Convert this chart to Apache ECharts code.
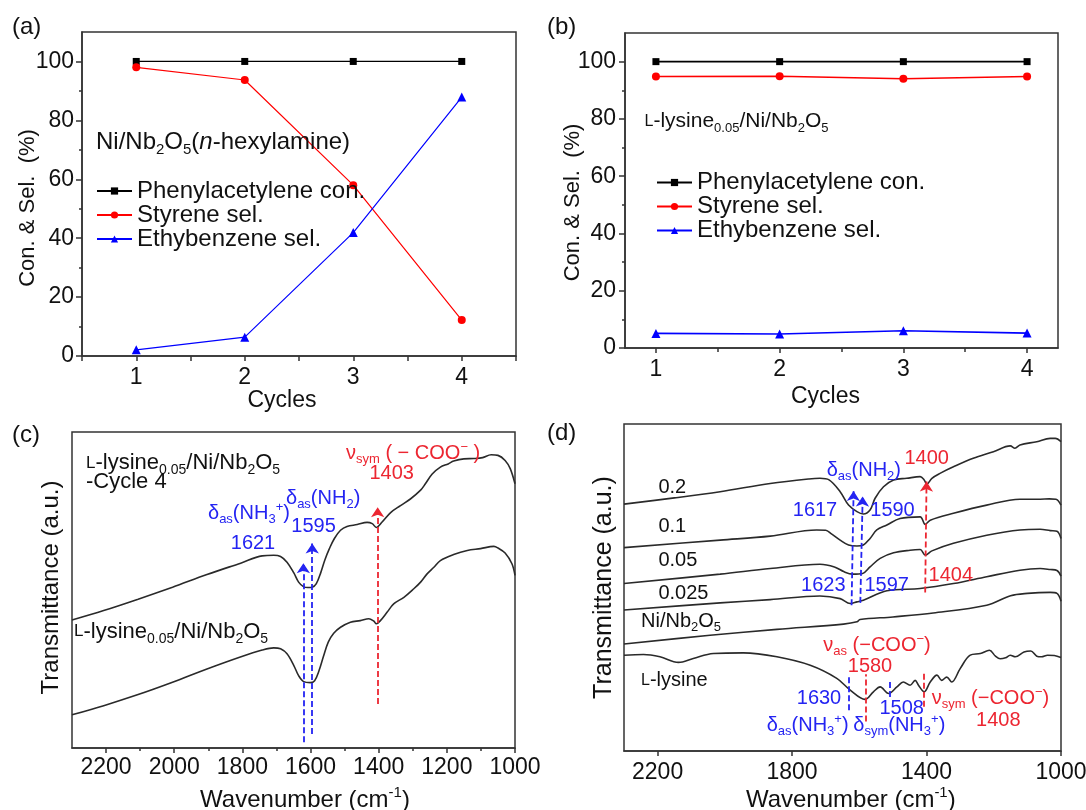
<!DOCTYPE html>
<html><head><meta charset="utf-8">
<script src="https://cdn.jsdelivr.net/npm/echarts@6/dist/echarts.min.js"></script>
<style>html,body{margin:0;padding:0;background:#fff}#chart{width:1086px;height:810px}</style>
</head><body><div id="chart"></div>
<script>
// ---------------- data ----------------
const cycles = [1, 2, 3, 4];
const aPhenylCon = [100, 100, 100, 100];
const aStyreneSel = [98.0, 93.7, 58.0, 12.2];
const aEthylSel = [2.1, 6.4, 41.9, 87.9];
const bPhenylCon = [100, 100, 100, 100];
const bStyreneSel = [94.8, 94.9, 94.0, 94.8];
const bEthylSel = [5.1, 4.9, 6.0, 5.2];
const seriesNames = ['Phenylacetylene con.', 'Styrene sel.', 'Ethybenzene sel.'];
const yTickLabelsAB = [0, 20, 40, 60, 80, 100];
const yMinorAB = [10, 30, 50, 70, 90];
const xTickLabelsAB = [1, 2, 3, 4];
const xMinorA = [0.5, 1.5, 2.5, 3.5, 4.5];
const xMinorB = [1.5, 2.5, 3.5];
const wnLabelsC = [1000, 1200, 1400, 1600, 1800, 2000, 2200];
const wnMinorC = [1100, 1300, 1500, 1700, 1900, 2100];
const wnLabelsD = [1000, 1400, 1800, 2200];

// (c) spectra: [wavenumber, transmittance a.u.]
const cCycle4 = [[2300,40.5],[2207,43.5],[2106,47.1],[2005,50.9],[1904,54.9],[1805,58.5],[1742,60.8],[1708,61.0],[1688,60.6],[1669,58.8],[1649,55.4],[1635,52.5],[1620,51.0],[1608,50.8],[1595,50.9],[1583,52.0],[1570,55.5],[1558,59.5],[1545,63.0],[1530,66.3],[1512,68.9],[1493,70.1],[1463,70.7],[1434,71.4],[1419,71.0],[1407,69.8],[1390,71.5],[1365,74.5],[1336,76.7],[1307,78.8],[1277,81.6],[1263,83.6],[1243,86.7],[1219,88.9],[1196,89.9],[1180,90.8],[1150,91.5],[1121,91.6],[1095,91.9],[1070,92.8],[1050,92.6],[1029,91.0],[1014,88.4],[1000,83.6]];
const cFresh = [[2300,10.5],[2207,13.4],[2106,16.9],[2005,20.8],[1904,25.0],[1806,28.8],[1742,31.0],[1708,31.7],[1688,31.4],[1669,29.8],[1649,26.1],[1635,22.9],[1620,21.0],[1601,20.7],[1588,21.3],[1575,24.5],[1562,29.0],[1548,33.5],[1532,36.3],[1512,38.2],[1483,39.8],[1454,40.3],[1429,40.9],[1414,40.1],[1407,39.3],[1395,40.3],[1375,43.0],[1356,45.6],[1326,47.7],[1297,50.4],[1277,52.5],[1258,55.1],[1238,57.2],[1219,59.3],[1180,61.2],[1140,62.5],[1101,63.1],[1062,63.8],[1050,63.3],[1029,61.7],[1009,58.3],[1000,54.6]];

// (d) spectra
const d02 = [[2300,75.5],[2150,77.4],[2014,79.3],[1865,81.8],[1750,83.2],[1717,83.4],[1690,82.9],[1657,79.3],[1632,75.2],[1607,73.2],[1588,72.5],[1568,73.7],[1553,77.3],[1528,80.8],[1498,82.9],[1459,83.4],[1419,83.9],[1407,82.9],[1399,81.6],[1384,83.4],[1360,84.9],[1320,86.9],[1261,89.5],[1201,91.5],[1151,93.3],[1137,92.6],[1122,93.6],[1072,94.6],[1032,95.6],[1017,95.6],[1000,94.6]];
const d01 = [[2300,62.2],[2014,64.5],[1865,65.7],[1727,67.6],[1700,67.5],[1684,66.5],[1657,64.5],[1632,63.0],[1607,62.7],[1588,63.0],[1568,65.0],[1548,67.6],[1518,69.1],[1479,71.1],[1419,71.6],[1404,69.3],[1389,70.6],[1320,72.7],[1221,75.2],[1122,77.0],[1062,77.0],[1035,77.1],[1015,77.0],[1000,75.2]];
const d005 = [[2300,51.2],[2014,54.1],[1865,55.8],[1717,57.1],[1674,56.3],[1645,54.8],[1620,54.1],[1590,54.3],[1568,56.3],[1538,58.9],[1498,60.6],[1449,61.4],[1419,61.6],[1404,59.9],[1384,61.2],[1320,63.5],[1221,66.0],[1122,67.6],[1062,67.8],[1032,67.4],[1012,67.2],[1000,65.0]];
const d0025 = [[2300,43.1],[2014,45.3],[1865,46.3],[1717,47.4],[1657,46.6],[1627,45.1],[1607,45.6],[1588,46.1],[1518,49.0],[1419,49.7],[1320,51.2],[1221,53.3],[1122,55.3],[1062,55.8],[1032,55.5],[1012,55.2],[1000,53.5]];
const dNiNb = [[2300,32.7],[2044,35.4],[1845,37.2],[1647,38.8],[1607,39.5],[1598,40.2],[1500,41.0],[1380,42.2],[1221,44.6],[1150,47.5],[1100,48.2],[1032,48.5],[1012,48.2],[1000,45.8]];
const dLysine = [[2300,29.3],[2242,29.5],[2193,28.8],[2138,27.1],[2094,28.3],[2034,29.8],[1945,30.0],[1845,28.8],[1746,26.2],[1667,22.2],[1627,18.6],[1583,15.8],[1558,18.1],[1538,19.6],[1513,17.6],[1488,19.6],[1469,21.1],[1449,20.1],[1434,21.6],[1424,20.1],[1407,18.1],[1389,21.1],[1369,23.2],[1355,21.6],[1340,22.6],[1325,21.1],[1300,25.2],[1270,29.3],[1240,29.8],[1213,30.8],[1195,29.0],[1181,28.2],[1165,28.5],[1151,29.3],[1136,28.8],[1110,30.3],[1090,30.6],[1072,29.0],[1058,28.8],[1040,29.3],[1020,29.2],[1000,28.6]];

// annotation lines: [wn_start, T_start, wn_end, T_end]
const cArrowBlue = [[1621,1.8,1621,58.5],[1595,4.4,1595,64.7]];
const cArrowRed = [[1403,13.9,1403,76.2]];
const dArrowBlue = [[1623,44.6,1617,79.5],[1597,45.3,1590,77.8]];
const dArrowRed = [[1404,48.5,1400,82.4]];
const dLineBlue = [[1630,12.5,1630,22.6],[1508,16.5,1508,21.6]];
const dLineRed = [[1580,9.0,1580,23.5],[1408,13.5,1408,24.0]];

// ---------------- styles ----------------
const FONT = '"Liberation Sans", Arial, Helvetica, sans-serif';
const BLACK = '#111111', BLUE = '#2424f2', RED = '#ec2631', AXIS = '#333333', CURVE = '#2a2a2a';

function rs(F, s, color) {
  const L = Math.round(F * 1.25);
  return {
    n:  {fontSize: F, lineHeight: L, fontFamily: FONT, fill: color},
    i:  {fontSize: F, lineHeight: L, fontFamily: FONT, fill: color, fontStyle: 'italic'},
    sc: {fontSize: Math.round(F * 0.78), lineHeight: L, fontFamily: FONT, fill: color},
    sub:{fontSize: s, lineHeight: s, fontFamily: FONT, fill: color, verticalAlign: 'bottom'},
    sup:{fontSize: s, lineHeight: s, fontFamily: FONT, fill: color, verticalAlign: 'top'}
  };
}
function txt(x, y, text, F, s, color, align, rot) {
  return {type: 'text', x: x, y: y, rotation: rot || 0, silent: true, z: 50,
    style: {text: text, rich: rs(F, s || Math.round(F * 0.65), color || BLACK),
      align: align || 'left', verticalAlign: 'middle', fontSize: F, fontFamily: FONT, fill: color || BLACK}};
}

function gridBox(left, top, width, height) {
  return {left, top, width, height, show: true, borderColor: AXIS, borderWidth: 1.5,
    backgroundColor: 'transparent', containLabel: false, outerBoundsMode: 'none'};
}
const labelStyle = {fontSize: 23, color: BLACK, fontFamily: FONT, formatter: v => String(v)};
function xAxisMajor(gi, min, max, labels, margin, inverse) {
  return {type: 'value', gridIndex: gi, min, max, inverse: !!inverse, position: 'bottom',
    axisLine: {show: true, lineStyle: {color: AXIS, width: 1.5}},
    axisTick: {show: true, inside: false, length: 5, customValues: labels, lineStyle: {color: AXIS, width: 1.5}},
    axisLabel: Object.assign({show: true, customValues: labels, margin: margin}, labelStyle),
    splitLine: {show: false}, minorTick: {show: false}};
}
function xAxisMinor(gi, min, max, ticks, inverse, len) {
  return {type: 'value', gridIndex: gi, min, max, inverse: !!inverse, position: 'bottom', offset: 0,
    axisLine: {show: false},
    axisTick: {show: true, inside: false, length: len || 4, customValues: ticks, lineStyle: {color: AXIS, width: 1.5}},
    axisLabel: {show: false}, splitLine: {show: false}};
}
function yAxisMajor(gi, labels, margin) {
  return {type: 'value', gridIndex: gi, min: 0, max: 110, position: 'left',
    axisLine: {show: true, lineStyle: {color: AXIS, width: 1.5}},
    axisTick: {show: true, inside: false, length: 6, customValues: labels, lineStyle: {color: AXIS, width: 1.5}},
    axisLabel: Object.assign({show: true, customValues: labels, margin: margin}, labelStyle),
    splitLine: {show: false}};
}
function yAxisMinor(gi, ticks) {
  return {type: 'value', gridIndex: gi, min: 0, max: 110, position: 'left', offset: 0,
    axisLine: {show: false},
    axisTick: {show: true, inside: false, length: 3, customValues: ticks, lineStyle: {color: AXIS, width: 1.5}},
    axisLabel: {show: false}, splitLine: {show: false}};
}
function yAxisHidden(gi) {
  return {type: 'value', gridIndex: gi, min: 0, max: 100, show: true,
    axisLine: {show: false}, axisTick: {show: false}, axisLabel: {show: false}, splitLine: {show: false}};
}
function zip(xs, ys) { return xs.map((x, i) => [x, ys[i]]); }

function pointSeries(name, xi, yi, xs, ys, color, symbol, size, lw) {
  return {name, type: 'line', xAxisIndex: xi, yAxisIndex: yi, data: zip(xs, ys),
    symbol, symbolSize: size, showSymbol: true, color: color,
    itemStyle: {color: color}, lineStyle: {color: color, width: lw}, silent: true};
}
function specSeries(name, yi, xi, data, extra) {
  return Object.assign({name, type: 'line', xAxisIndex: xi, yAxisIndex: yi, data,
    showSymbol: false, symbol: 'none', smooth: 0.35, color: CURVE,
    lineStyle: {color: CURVE, width: 1.6}, silent: true}, extra || {});
}
function mlData(list, color) {
  return list.map(l => [{coord: [l[0], l[1]], lineStyle: {color: color, type: [6, 3], width: 1.8}, itemStyle: {color: color}},
                        {coord: [l[2], l[3]]}]);
}
function markLines(list, arrow) {
  return {silent: true, animation: false, symbol: arrow ? ['none', 'arrow'] : ['none', 'none'],
    symbolSize: 10, label: {show: false}, emphasis: {disabled: true}, data: list};
}

const HALF = Math.PI / 2;
const option = {
  animation: false,
  backgroundColor: '#ffffff',
  textStyle: {fontFamily: FONT},
  grid: [gridBox(82, 32, 434, 324), gridBox(625, 33, 433, 315), gridBox(72, 432, 443, 316), gridBox(624, 424, 437, 327)],
  xAxis: [
    xAxisMajor(0, 0.5, 4.5, xTickLabelsAB, 10.5), xAxisMinor(0, 0.5, 4.5, xMinorA, false, 5),
    xAxisMajor(1, 0.75, 4.25, xTickLabelsAB, 10), xAxisMinor(1, 0.75, 4.25, xMinorB, false, 4),
    xAxisMajor(2, 1000, 2300, wnLabelsC, 8, true), xAxisMinor(2, 1000, 2300, wnMinorC, true, 3),
    xAxisMajor(3, 1000, 2300, wnLabelsD, 10, true)
  ],
  yAxis: [
    yAxisMajor(0, yTickLabelsAB, 8), yAxisMinor(0, yMinorAB),
    yAxisMajor(1, yTickLabelsAB, 9), yAxisMinor(1, yMinorAB),
    yAxisHidden(2), yAxisHidden(3)
  ],
  legend: [
    {left: 96, top: 179, orient: 'vertical', padding: 0, itemGap: 0, itemWidth: 35, itemHeight: 9,
     selectedMode: false, data: seriesNames, textStyle: {fontSize: 24, lineHeight: 22, color: BLACK, fontFamily: FONT}},
    {left: 656, top: 170.5, orient: 'vertical', padding: 0, itemGap: 0, itemWidth: 35, itemHeight: 9,
     selectedMode: false, data: seriesNames, textStyle: {fontSize: 24, lineHeight: 21, color: BLACK, fontFamily: FONT}}
  ],
  series: [
    pointSeries(seriesNames[0], 0, 0, cycles, aPhenylCon, '#000000', 'rect', 7, 1.2),
    pointSeries(seriesNames[1], 0, 0, cycles, aStyreneSel, '#ff0000', 'circle', 8, 1.2),
    pointSeries(seriesNames[2], 0, 0, cycles, aEthylSel, '#0000ff', 'triangle', 9, 1.2),
    pointSeries(seriesNames[0], 2, 2, cycles, bPhenylCon, '#000000', 'rect', 7, 1.6),
    pointSeries(seriesNames[1], 2, 2, cycles, bStyreneSel, '#ff0000', 'circle', 8, 1.6),
    pointSeries(seriesNames[2], 2, 2, cycles, bEthylSel, '#0000ff', 'triangle', 9, 1.6),
    specSeries('c-cycle4', 4, 4, cCycle4, {markLine: markLines(mlData(cArrowBlue, BLUE).concat(mlData(cArrowRed, RED)), true)}),
    specSeries('c-fresh', 4, 4, cFresh),
    specSeries('d-0.2', 5, 6, d02, {markLine: markLines(mlData(dArrowBlue, BLUE).concat(mlData(dArrowRed, RED)), true)}),
    specSeries('d-0.1', 5, 6, d01),
    specSeries('d-0.05', 5, 6, d005),
    specSeries('d-0.025', 5, 6, d0025),
    specSeries('d-NiNb2O5', 5, 6, dNiNb),
    specSeries('d-lysine', 5, 6, dLysine, {markLine: markLines(mlData(dLineBlue, BLUE).concat(mlData(dLineRed, RED)), false)})
  ],
  graphic: {elements: [
    // (a)
    txt(12, 27, '{n|(a)}', 24),
    txt(27.5, 208, '{n|Con. & Sel.  (%)}', 22, 14, BLACK, 'center', HALF),
    txt(282, 401, '{n|Cycles}', 23, 14, BLACK, 'center'),
    txt(96, 142, '{n|Ni/Nb}{sub|2}{n|O}{sub|5}{n|(}{i|n}{n|-hexylamine)}', 24, 15),
    // (b)
    txt(547, 27, '{n|(b)}', 24),
    txt(573, 202.5, '{n|Con. & Sel.  (%)}', 22, 14, BLACK, 'center', HALF),
    txt(825.5, 396.7, '{n|Cycles}', 23, 14, BLACK, 'center'),
    txt(644.5, 121.7, '{sc|L}{n|-lysine}{sub|0.05}{n|/Ni/Nb}{sub|2}{n|O}{sub|5}', 21, 13),
    // (c)
    txt(12, 435, '{n|(c)}', 24),
    txt(51.7, 587.5, '{n|Transmittance (a.u.)}', 24, 15, BLACK, 'center', HALF),
    txt(305, 800, '{n|Wavenumber (cm}{sup|-1}{n|)}', 24, 15, BLACK, 'center'),
    txt(86, 463, '{sc|L}{n|-lysine}{sub|0.05}{n|/Ni/Nb}{sub|2}{n|O}{sub|5}', 22, 14),
    txt(86, 482, '{n|-Cycle 4}', 22, 14),
    txt(74, 631.7, '{sc|L}{n|-lysine}{sub|0.05}{n|/Ni/Nb}{sub|2}{n|O}{sub|5}', 22, 14),
    txt(208, 513, '{n|δ}{sub|as}{n|(NH}{sub|3}{sup|+}{n|)}', 20, 13, BLUE),
    txt(286, 498, '{n|δ}{sub|as}{n|(NH}{sub|2}{n|)}', 20, 13, BLUE),
    txt(313.6, 526.7, '{n|1595}', 20, 13, BLUE, 'center'),
    txt(253, 543.3, '{n|1621}', 20, 13, BLUE, 'center'),
    txt(346, 453, '{n|ν}{sub|sym}{n| ( − COO}{sup|−}{n| )}', 20, 13, RED),
    txt(391.7, 473.3, '{n|1403}', 20, 13, RED, 'center'),
    // (d)
    txt(547, 433, '{n|(d)}', 24),
    txt(604.4, 587.5, '{n|Transmittance (a.u.)}', 25, 15, BLACK, 'center', HALF),
    txt(850.8, 800, '{n|Wavenumber (cm}{sup|-1}{n|)}', 24, 15, BLACK, 'center'),
    txt(658.4, 487.3, '{n|0.2}', 20),
    txt(658.4, 526.7, '{n|0.1}', 20),
    txt(658.4, 560, '{n|0.05}', 20),
    txt(658.4, 593.3, '{n|0.025}', 20),
    txt(641, 621.7, '{n|Ni/Nb}{sub|2}{n|O}{sub|5}', 20, 13),
    txt(641, 680.7, '{sc|L}{n|-lysine}', 20, 13),
    txt(826.7, 470, '{n|δ}{sub|as}{n|(NH}{sub|2}{n|)}', 20, 13, BLUE),
    txt(815, 510, '{n|1617}', 20, 13, BLUE, 'center'),
    txt(892.5, 510, '{n|1590}', 20, 13, BLUE, 'center'),
    txt(926.7, 458.3, '{n|1400}', 20, 13, RED, 'center'),
    txt(823.3, 585, '{n|1623}', 20, 13, BLUE, 'center'),
    txt(886.7, 585, '{n|1597}', 20, 13, BLUE, 'center'),
    txt(950.8, 575, '{n|1404}', 20, 13, RED, 'center'),
    txt(823.3, 645, '{n|ν}{sub|as}{n| (−COO}{sup|−}{n|)}', 20, 13, RED),
    txt(870, 666.7, '{n|1580}', 20, 13, RED, 'center'),
    txt(819, 698.3, '{n|1630}', 20, 13, BLUE, 'center'),
    txt(766.7, 725, '{n|δ}{sub|as}{n|(NH}{sub|3}{sup|+}{n|)}', 20, 13, BLUE),
    txt(853.3, 725, '{n|δ}{sub|sym}{n|(NH}{sub|3}{sup|+}{n|)}', 20, 13, BLUE),
    txt(901.7, 708.3, '{n|1508}', 20, 13, BLUE, 'center'),
    txt(931.7, 698.3, '{n|ν}{sub|sym}{n| (−COO}{sup|−}{n|)}', 20, 13, RED),
    txt(998.3, 720, '{n|1408}', 20, 13, RED, 'center')
  ]}
};
const chart = echarts.init(document.getElementById('chart'), null, {renderer: 'canvas'});
chart.setOption(option);
</script>
</body></html>
